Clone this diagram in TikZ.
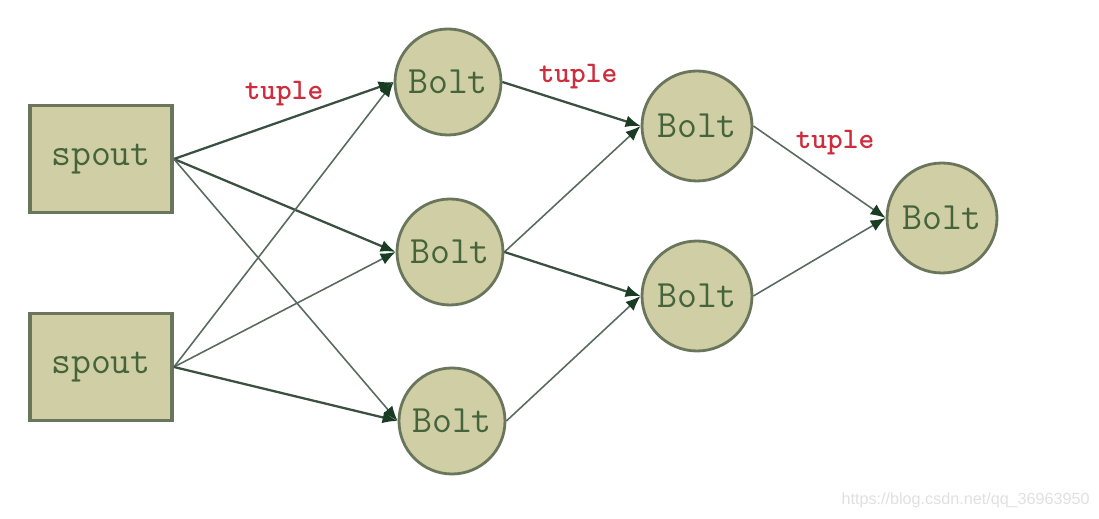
\documentclass[tikz,border=0pt]{standalone}
\usepackage{fontspec}
\newfontfamily\wmfont{Liberation Sans}
\usetikzlibrary{arrows.meta}
\definecolor{boxfill}{RGB}{207,206,164}
\definecolor{boxline}{RGB}{105,118,92}
\definecolor{txtgreen}{RGB}{70,100,60}
\definecolor{edgecol}{RGB}{60,80,65}
\definecolor{tipcol}{RGB}{25,60,35}
\definecolor{tuplered}{RGB}{205,45,60}
\tikzset{
  spoutbox/.style={draw=boxline, line width=2.2pt, fill=boxfill, minimum width=142*0.02cm, minimum height=107*0.02cm, inner sep=0pt, text=txtgreen, font=\ttfamily\fontsize{22}{24}\selectfont},
  boltnode/.style={circle, draw=boxline, line width=1.6pt, fill=boxfill, inner sep=0pt, text=txtgreen, font=\ttfamily\fontsize{22}{24}\selectfont},
  flow/.style={draw=edgecol, line width=1.3pt, -{Latex[length=0.3cm,width=0.24cm,color=tipcol]}},
  flowthin/.style={draw=edgecol!85, line width=0.9pt, -{Latex[length=0.3cm,width=0.24cm,color=tipcol]}},
  tuplelbl/.style={text=tuplered, font=\ttfamily\bfseries\fontsize{17}{19}\selectfont, inner sep=0pt},
}
\begin{document}
\begin{tikzpicture}[x=0.02cm,y=-0.02cm]
\useasboundingbox (0,0) rectangle (1099,519);
\node[spoutbox] (s1) at (101,159) {spout};
\node[spoutbox] (s2) at (101,367) {spout};
\node[boltnode, minimum size=106*0.02cm] (b1) at (448,82) {Bolt};
\node[boltnode, minimum size=106*0.02cm] (b2) at (450,252) {Bolt};
\node[boltnode, minimum size=106*0.02cm] (b3) at (452,421) {Bolt};
\node[boltnode, minimum size=110*0.02cm] (b4) at (697,126) {Bolt};
\node[boltnode, minimum size=110*0.02cm] (b5) at (697,296) {Bolt};
\node[boltnode, minimum size=110*0.02cm] (b6) at (942,218) {Bolt};
\draw[flow] (s1.east) -- (b1.west);
\draw[flow] (s1.east) -- (b2.west);
\draw[flowthin] (s1.east) -- (b3.west);
\draw[flowthin] (s2.east) -- (b1.west);
\draw[flowthin] (s2.east) -- (b2.west);
\draw[flow] (s2.east) -- (b3.west);
\draw[flow] (b1.east) -- (b4.west);
\draw[flowthin] (b2.east) -- (b4.west);
\draw[flow] (b2.east) -- (b5.west);
\draw[flowthin] (b3.east) -- (b5.west);
\draw[flowthin] (b4.east) -- (b6.west);
\draw[flowthin] (b5.east) -- (b6.west);
\node[tuplelbl] (t1) at (284,94) {tuple};
\node[tuplelbl] (t2) at (578,77) {tuple};
\node[tuplelbl] (t3) at (835,143) {tuple};
\node[anchor=east, text=black!12, font=\wmfont\fontsize{9.2}{10}\selectfont, inner sep=0pt] (wm) at (1090,500) {https://blog.csdn.net/qq\_36963950};
\end{tikzpicture}
\end{document}
